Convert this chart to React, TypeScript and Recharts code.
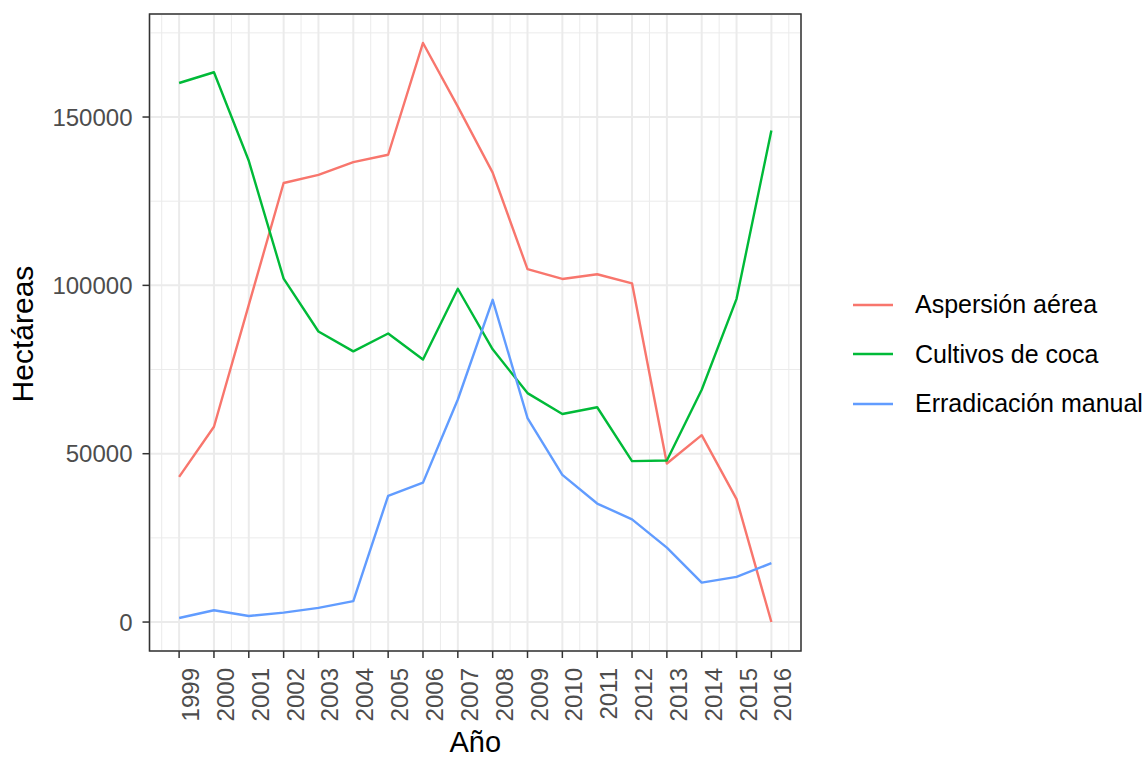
import React from 'react';
import {
  LineChart, Line, XAxis, YAxis, CartesianGrid, ReferenceArea, Legend,
} from 'recharts';

const years = [1999, 2000, 2001, 2002, 2003, 2004, 2005, 2006, 2007, 2008, 2009, 2010, 2011, 2012, 2013, 2014, 2015, 2016];
const aspersion = [43100, 58000, 94200, 130400, 132800, 136600, 138800, 172000, 153100, 133500, 104800, 101900, 103300, 100600, 47100, 55500, 36500, 0];
const cultivos = [160100, 163300, 137000, 102000, 86300, 80400, 85700, 78000, 99000, 81000, 68000, 61800, 63800, 47800, 48000, 69000, 96000, 146000];
const erradicacion = [1200, 3500, 1800, 2800, 4200, 6200, 37500, 41400, 66100, 95700, 60600, 43700, 35200, 30500, 22100, 11700, 13400, 17500];

const yTicks = [0, 50000, 100000, 150000];
const yMinorTicks = [25000, 75000, 125000, 175000];
const xMinorTicks = [1998.5, ...years.map((y) => y + 0.5)];

const xDomain: [number, number] = [1998.15, 2016.85];
const yDomain: [number, number] = [-8600, 180600];

const series = [
  { key: 'aspersion', name: 'Aspersión aérea', color: '#F8766D' },
  { key: 'cultivos', name: 'Cultivos de coca', color: '#00BA38' },
  { key: 'erradicacion', name: 'Erradicación manual', color: '#619CFF' },
];

const data = years.map((year, i) => ({
  year,
  aspersion: aspersion[i],
  cultivos: cultivos[i],
  erradicacion: erradicacion[i],
}));

const FONT = '"Liberation Sans", Arial, sans-serif';

const XTick = ({ x, y, payload }: any) => (
  <text
    x={x}
    y={y}
    transform={`rotate(-90 ${x} ${y})`}
    textAnchor="end"
    dy={20}
    fill="#4d4d4d"
    fontSize={24}
    fontFamily={FONT}
  >
    {payload.value}
  </text>
);

const LegendContent = () => (
  <div style={{ fontFamily: FONT }}>
    {series.map((s) => (
      <div key={s.key} style={{ display: 'flex', alignItems: 'center', height: 49.5 }}>
        <svg width={40} height={4} style={{ display: 'block' }}>
          <line x1={0} y1={2} x2={40} y2={2} stroke={s.color} strokeWidth={2.4} />
        </svg>
        <span style={{ marginLeft: 22, fontSize: 25, color: '#000', whiteSpace: 'nowrap' }}>{s.name}</span>
      </div>
    ))}
  </div>
);

export default function App() {
  return (
    <div style={{ position: 'absolute', left: 0, top: 0, width: 1147, height: 757, background: '#fff', fontFamily: FONT, overflow: 'hidden' }}>
      <LineChart
        width={1147}
        height={757}
        data={data}
        margin={{ top: 14, right: 346, bottom: 46, left: 69.5 }}
      >
        <XAxis xAxisId="minor" type="number" dataKey="year" domain={xDomain} ticks={xMinorTicks} allowDataOverflow hide />
        <YAxis yAxisId="minor" type="number" domain={yDomain} ticks={yMinorTicks} allowDataOverflow hide />
        <CartesianGrid xAxisId="minor" yAxisId="minor" stroke="#ebebeb" strokeWidth={1} />
        <CartesianGrid stroke="#ebebeb" strokeWidth={2} />
        <XAxis
          type="number"
          dataKey="year"
          domain={xDomain}
          ticks={years}
          allowDataOverflow
          interval={0}
          height={60}
          axisLine={false}
          tickSize={7}
          tickMargin={10}
          tickLine={{ stroke: '#333333', strokeWidth: 1.5 }}
          tick={<XTick />}
        />
        <YAxis
          type="number"
          domain={yDomain}
          ticks={yTicks}
          allowDataOverflow
          width={80}
          axisLine={false}
          tickSize={7}
          tickMargin={10}
          tickLine={{ stroke: '#333333', strokeWidth: 1.5 }}
          tick={{ fill: '#4d4d4d', fontSize: 24, fontFamily: FONT }}
        />
        {series.map((s) => (
          <Line
            key={s.key}
            type="linear"
            dataKey={s.key}
            name={s.name}
            stroke={s.color}
            strokeWidth={2.4}
            strokeLinejoin="round"
            dot={false}
            activeDot={false}
            isAnimationActive={false}
          />
        ))}
        <ReferenceArea
          x1={xDomain[0]}
          x2={xDomain[1]}
          y1={yDomain[0]}
          y2={yDomain[1]}
          fill="none"
          stroke="#333333"
          strokeWidth={1.5}
          ifOverflow="visible"
        />
        <Legend
          layout="vertical"
          align="center"
          verticalAlign="middle"
          content={<LegendContent />}
          wrapperStyle={{ left: 853, top: 280, width: 294 }}
        />
      </LineChart>
      <div
        style={{
          position: 'absolute', left: 149.5, width: 651.5, top: 728,
          fontSize: 29, lineHeight: '29px', textAlign: 'center', color: '#000',
        }}
      >
        Año
      </div>
      <div
        style={{
          position: 'absolute', left: 23 - 150, top: 334 - 15, width: 300, height: 30,
          fontSize: 30, lineHeight: '30px', textAlign: 'center', color: '#000',
          transform: 'rotate(-90deg)',
        }}
      >
        Hectáreas
      </div>
    </div>
  );
}
